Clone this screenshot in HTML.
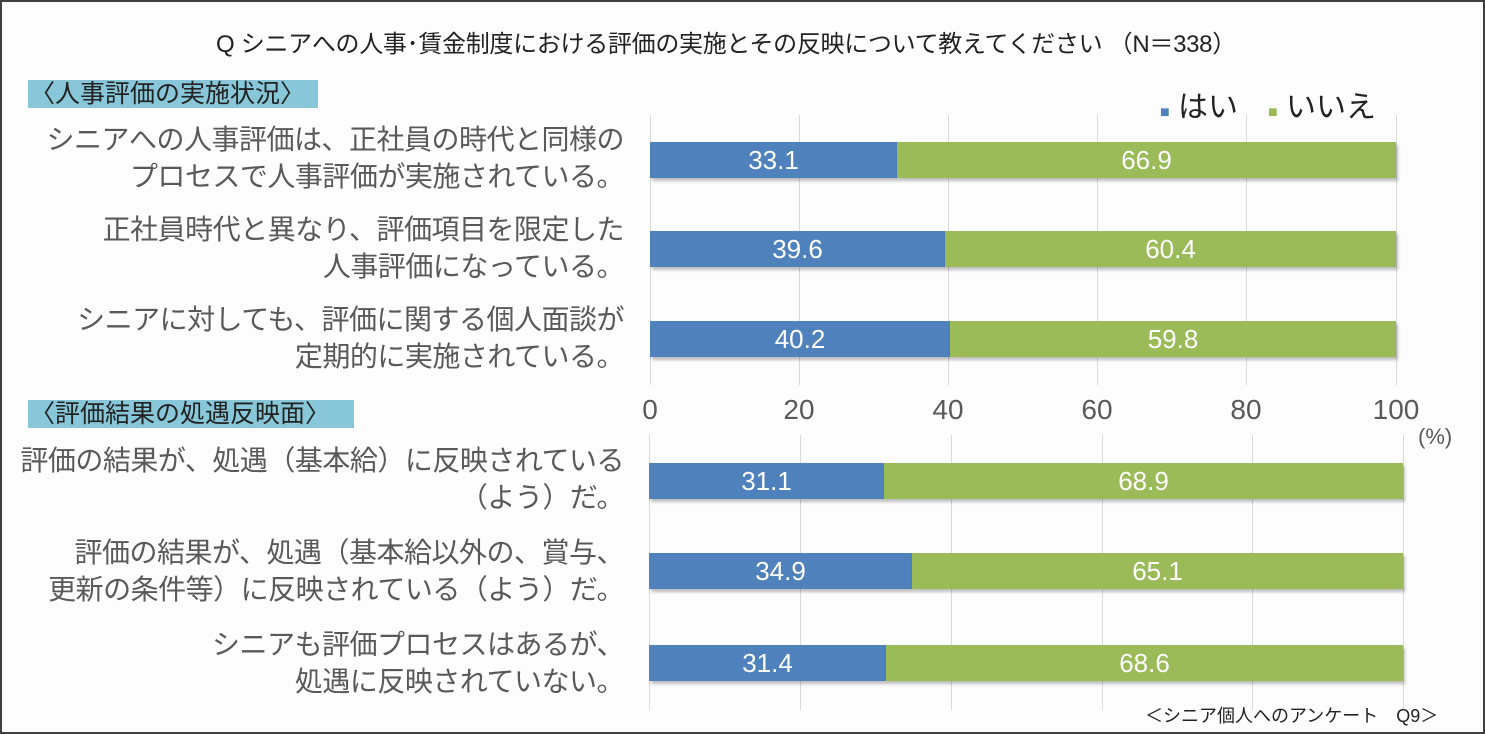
<!DOCTYPE html>
<html><head><meta charset="utf-8"><style>
body{margin:0;width:1485px;height:734px;overflow:hidden;background:#fff;font-family:"Liberation Sans","Noto Sans CJK JP",sans-serif}
#f{position:absolute;left:0;top:0;width:1481px;height:730px;border:2px solid #404040;background:#fdfdfd}
.t{position:absolute;white-space:nowrap}
.g{position:absolute;width:1px;background:#d9d9d9}
.b{position:absolute;height:36px;color:#fff;font-size:26px;line-height:36px;text-align:center;box-shadow:2px 3px 3px rgba(0,0,0,.25)}
.bl{background:#4f81bd}.gr{background:#9bbb59}
.lab{position:absolute;right:861px;text-align:right;font-size:28px;line-height:37px;color:#595959;white-space:nowrap;letter-spacing:-0.5px}
.tk{position:absolute;top:394px;font-size:28px;color:#595959;transform:translateX(-50%)}
.h{position:absolute;background:#87c7d9;font-size:25px;line-height:28px;color:#222;padding:0 2px}
</style></head><body><div id="f"></div>
<div class="t" style="left:216px;top:24px;font-size:24px;color:#222;letter-spacing:-0.3px">Q シニアへの人事･賃金制度における評価の実施とその反映について教えてください （N＝338）</div>
<div class="h" style="left:28px;top:80px;width:286px">〈人事評価の実施状況〉</div>
<div class="h" style="left:28px;top:400px;width:322px">〈評価結果の処遇反映面〉</div>
<div class="t" style="left:1160px;top:82px;font-size:30px;color:#222"><span style="color:#4f81bd;font-size:16px">■</span> はい　<span style="color:#9bbb59;font-size:16px">■</span> いいえ</div>
<div class="g" style="left:650px;top:115px;height:270px"></div>
<div class="g" style="left:799px;top:115px;height:270px"></div>
<div class="g" style="left:948px;top:115px;height:270px"></div>
<div class="g" style="left:1097px;top:115px;height:270px"></div>
<div class="g" style="left:1246px;top:115px;height:270px"></div>
<div class="g" style="left:1396px;top:115px;height:270px"></div>
<div class="g" style="left:649px;top:435px;height:275px"></div>
<div class="g" style="left:800px;top:435px;height:275px"></div>
<div class="g" style="left:951px;top:435px;height:275px"></div>
<div class="g" style="left:1102px;top:435px;height:275px"></div>
<div class="g" style="left:1252px;top:435px;height:275px"></div>
<div class="g" style="left:1403px;top:435px;height:275px"></div>
<div class="tk" style="left:650px">0</div><div class="tk" style="left:799px">20</div><div class="tk" style="left:948px">40</div><div class="tk" style="left:1097px">60</div><div class="tk" style="left:1246px">80</div><div class="tk" style="left:1396px">100</div>
<div class="t" style="left:1418px;top:424px;font-size:22px;color:#595959">(%)</div>
<div class="b bl" style="left:650px;top:142px;width:247px">33.1</div><div class="b gr" style="left:897px;top:142px;width:499px">66.9</div>
<div class="b bl" style="left:650px;top:231px;width:295px">39.6</div><div class="b gr" style="left:945px;top:231px;width:451px">60.4</div>
<div class="b bl" style="left:650px;top:321px;width:300px">40.2</div><div class="b gr" style="left:950px;top:321px;width:446px">59.8</div>
<div class="b bl" style="left:649px;top:463px;width:235px">31.1</div><div class="b gr" style="left:884px;top:463px;width:519px">68.9</div>
<div class="b bl" style="left:649px;top:553px;width:263px">34.9</div><div class="b gr" style="left:912px;top:553px;width:491px">65.1</div>
<div class="b bl" style="left:649px;top:645px;width:237px">31.4</div><div class="b gr" style="left:886px;top:645px;width:517px">68.6</div>
<div class="lab" style="top:121px">シニアへの人事評価は、正社員の時代と同様の<br>プロセスで人事評価が実施されている。</div>
<div class="lab" style="top:211px">正社員時代と異なり、評価項目を限定した<br>人事評価になっている。</div>
<div class="lab" style="top:301px">シニアに対しても、評価に関する個人面談が<br>定期的に実施されている。</div>
<div class="lab" style="top:442px">評価の結果が、処遇（基本給）に反映されている<br>（よう）だ。</div>
<div class="lab" style="top:534px">評価の結果が、処遇（基本給以外の、賞与、<br>更新の条件等）に反映されている（よう）だ。</div>
<div class="lab" style="top:626px">シニアも評価プロセスはあるが、<br>処遇に反映されていない。</div>
<div class="t" style="left:1145px;top:702px;font-size:18px;color:#222">＜シニア個人へのアンケート　Q9＞</div>
</body></html>
